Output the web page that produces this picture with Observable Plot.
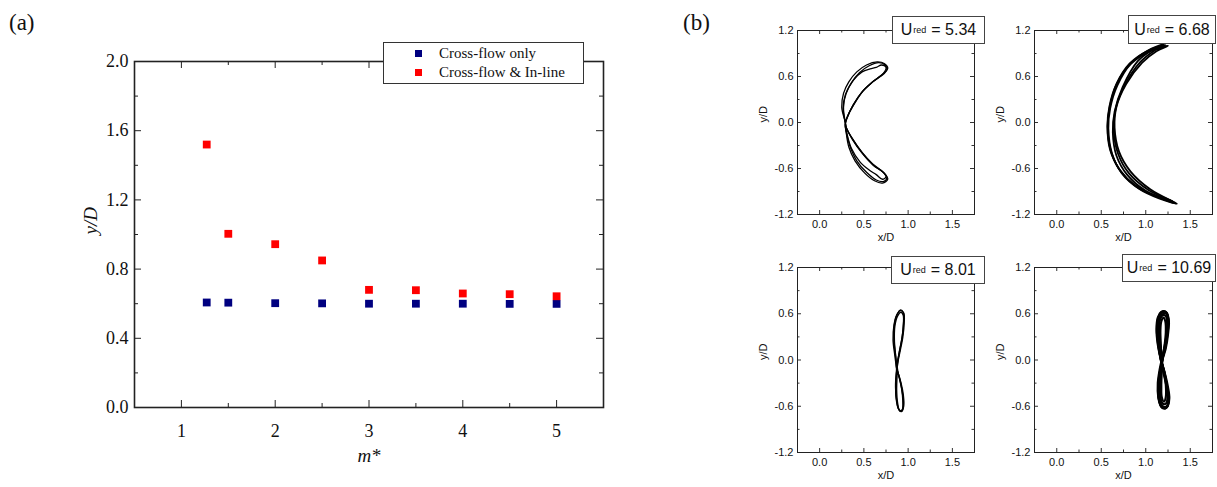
<!DOCTYPE html>
<html>
<head>
<meta charset="utf-8">
<script src="https://cdn.jsdelivr.net/npm/d3@7"></script>
<script src="https://cdn.jsdelivr.net/npm/@observablehq/plot@0.6"></script>
<style>
  body { margin: 0; background: #fff; }
  #page { position: relative; width: 1217px; height: 487px; overflow: hidden; background: #fff; }
  .slot { position: absolute; }
  .tag { position: absolute; font-family: "Liberation Serif", "Times New Roman", serif; font-size: 23px; color: #111; line-height: 1; }
  .legend { position: absolute; left: 383px; top: 42px; width: 199px; height: 40px; border: 1px solid #333; background: #fff;
            font-family: "Liberation Serif", "Times New Roman", serif; font-size: 15px; color: #111; }
  .legend .row { position: absolute; left: 0; height: 18px; display: flex; align-items: center; white-space: nowrap; }
  .legend .sw { display: inline-block; width: 7px; height: 7px; margin-left: 31px; margin-right: 17px; }
  .ubox { position: absolute; border: 1px solid #444; background: #fff; box-sizing: border-box;
          font-family: "Liberation Sans", Arial, sans-serif; font-size: 16px; color: #111;
          display: flex; align-items: center; justify-content: center; white-space: nowrap; }
  .ubox sub { font-size: 9px; vertical-align: -5px; line-height: 0; margin: 0 5px 0 1px; }
</style>
</head>
<body>
<div id="page">
  <div class="tag" style="left:9px;top:11px">(a)</div>
  <div class="tag" style="left:683px;top:11px">(b)</div>
  <div class="slot" id="panelA" style="left:0;top:0"></div>
  <div class="slot" id="orbitTL" style="left:740px;top:0"></div>
  <div class="slot" id="orbitTR" style="left:980px;top:0"></div>
  <div class="slot" id="orbitBL" style="left:740px;top:245px"></div>
  <div class="slot" id="orbitBR" style="left:980px;top:245px"></div>
  <div class="legend" id="legendA"></div>
</div>
<script>
// ---- Panel (a): peak cross-flow amplitude against mass ratio ----
const massRatio = [1.27, 1.5, 2, 2.5, 3, 3.5, 4, 4.5, 5];
const crossFlowOnly = [0.607, 0.606, 0.603, 0.602, 0.600, 0.600, 0.600, 0.599, 0.599];
const crossFlowInLine = [1.52, 1.004, 0.944, 0.850, 0.680, 0.678, 0.659, 0.655, 0.643];
const seriesNames = ["Cross-flow only", "Cross-flow & In-line"];
const seriesColors = ["#000080", "#ff0000"];
const massTicks = [1, 2, 3, 4, 5];
const massMinorTicks = [1.5, 2.5, 3.5, 4.5];
const amplitudeTicks = [0, 0.4, 0.8, 1.2, 1.6, 2.0];
const amplitudeMinorTicks = [0.2, 0.6, 1.0, 1.4, 1.8];

// ---- Panel (b): x/D – y/D orbits at four reduced velocities ----
const reducedVelocity = ["5.34", "6.68", "8.01", "10.69"];
const orbitXTicks = [0, 0.5, 1.0, 1.5];
const orbitXMinorTicks = [0.25, 0.75, 1.25];
const orbitYTicks = [-1.2, -0.6, 0, 0.6, 1.2];
const orbitYMinorTicks = [-0.9, -0.3, 0.3, 0.9];

// Ured = 5.34: crescent-shaped figure-eight, several cycles
const orbit534 = [
  [[0.29,0.0],[0.265,0.18],[0.29,0.36],[0.36,0.52],[0.45,0.65],[0.56,0.74],[0.67,0.78],[0.74,0.75],[0.76,0.69],[0.71,0.63],[0.60,0.53],[0.48,0.40],[0.38,0.23],[0.31,0.06],
   [0.29,-0.02],[0.30,-0.12],[0.34,-0.30],[0.42,-0.50],[0.53,-0.65],[0.64,-0.75],[0.72,-0.77],[0.76,-0.72],[0.72,-0.65],[0.60,-0.55],[0.48,-0.40],[0.37,-0.22],[0.30,-0.06]],
  [[0.29,0.0],[0.25,0.20],[0.27,0.38],[0.33,0.53],[0.42,0.66],[0.53,0.75],[0.65,0.79],[0.73,0.77],[0.77,0.71],[0.73,0.64],[0.61,0.54],[0.49,0.41],[0.39,0.24],[0.31,0.07],
   [0.29,-0.02],[0.30,-0.13],[0.33,-0.32],[0.40,-0.50],[0.51,-0.66],[0.62,-0.76],[0.71,-0.79],[0.77,-0.74],[0.73,-0.66],[0.61,-0.56],[0.49,-0.41],[0.38,-0.23],[0.30,-0.07]],
  [[0.29,0.0],[0.27,0.20],[0.30,0.38],[0.38,0.55],[0.48,0.66],[0.57,0.70],[0.64,0.72],[0.70,0.75],[0.75,0.72],[0.72,0.64],[0.60,0.53],[0.48,0.40],[0.38,0.23],[0.31,0.06],
   [0.29,-0.02],[0.31,-0.15],[0.36,-0.34],[0.46,-0.52],[0.56,-0.62],[0.64,-0.68],[0.71,-0.74],[0.75,-0.71],[0.71,-0.64],[0.60,-0.54],[0.48,-0.39],[0.37,-0.21],[0.30,-0.06]]
];

// Ured = 6.68: wide crescent
const orbit668 = [
  [[1.33,-1.05],[1.13,-0.97],[0.90,-0.84],[0.72,-0.64],[0.61,-0.38],[0.57,-0.06],[0.59,0.20],[0.67,0.50],[0.82,0.77],[1.03,0.94],[1.22,1.01],
   [1.10,0.94],[0.94,0.79],[0.76,0.48],[0.66,0.17],[0.64,-0.10],[0.69,-0.41],[0.81,-0.66],[1.03,-0.88],[1.30,-1.03]],
  [[1.35,-1.06],[1.15,-0.99],[0.92,-0.86],[0.73,-0.66],[0.62,-0.40],[0.58,-0.08],[0.60,0.18],[0.68,0.48],[0.83,0.76],[1.05,0.93],[1.25,1.00],
   [1.12,0.93],[0.96,0.78],[0.78,0.50],[0.67,0.20],[0.65,-0.07],[0.70,-0.38],[0.83,-0.64],[1.05,-0.87],[1.32,-1.04]],
  [[1.30,-1.03],[1.10,-0.95],[0.88,-0.82],[0.71,-0.62],[0.60,-0.36],[0.57,-0.04],[0.60,0.23],[0.68,0.52],[0.84,0.78],[1.06,0.96],[1.20,1.02],
   [1.08,0.95],[0.91,0.80],[0.74,0.46],[0.65,0.14],[0.63,-0.13],[0.67,-0.43],[0.79,-0.68],[1.00,-0.89],[1.28,-1.02]]
];

// Ured = 8.01: slender figure-eight
const orbit801 = [
  [[0.87,-0.10],[0.85,0.06],[0.83,0.26],[0.84,0.45],[0.87,0.58],[0.91,0.64],[0.95,0.61],[0.955,0.48],[0.94,0.30],[0.91,0.12],[0.885,-0.02],
   [0.87,-0.16],[0.86,-0.32],[0.865,-0.50],[0.89,-0.63],[0.925,-0.67],[0.95,-0.60],[0.945,-0.45],[0.92,-0.30],[0.89,-0.18]],
  [[0.875,-0.08],[0.855,0.08],[0.84,0.28],[0.845,0.46],[0.875,0.59],[0.915,0.65],[0.945,0.62],[0.95,0.50],[0.935,0.32],[0.905,0.13],[0.88,-0.03],
   [0.865,-0.18],[0.858,-0.35],[0.87,-0.52],[0.895,-0.64],[0.93,-0.66],[0.945,-0.58],[0.935,-0.42],[0.91,-0.28],[0.885,-0.16]],
  [[0.87,-0.12],[0.86,0.04],[0.845,0.24],[0.85,0.44],[0.88,0.57],[0.92,0.62],[0.945,0.58],[0.945,0.44],[0.93,0.27],[0.90,0.10],[0.88,-0.04],
   [0.875,-0.20],[0.87,-0.38],[0.88,-0.55],[0.905,-0.66],[0.935,-0.64],[0.94,-0.52],[0.925,-0.36],[0.90,-0.22],[0.88,-0.15]]
];

// Ured = 10.69: narrow, densely overlapping figure-eight
const orbit1069 = [
  [[1.17,0.0],[1.145,0.18],[1.13,0.38],[1.14,0.53],[1.18,0.61],[1.23,0.62],[1.255,0.52],[1.245,0.34],[1.22,0.16],[1.19,0.02],
   [1.16,-0.14],[1.14,-0.32],[1.145,-0.50],[1.18,-0.61],[1.23,-0.62],[1.26,-0.52],[1.24,-0.34],[1.21,-0.16]],
  [[1.165,0.02],[1.135,0.20],[1.12,0.40],[1.135,0.55],[1.17,0.62],[1.22,0.63],[1.25,0.55],[1.24,0.36],[1.215,0.17],[1.185,0.03],
   [1.155,-0.13],[1.135,-0.30],[1.14,-0.48],[1.17,-0.60],[1.22,-0.63],[1.255,-0.55],[1.235,-0.36],[1.20,-0.17]],
  [[1.175,-0.02],[1.15,0.16],[1.14,0.36],[1.15,0.51],[1.185,0.59],[1.23,0.60],[1.25,0.49],[1.235,0.31],[1.21,0.14],[1.185,0.0],
   [1.165,-0.16],[1.15,-0.34],[1.155,-0.51],[1.19,-0.60],[1.235,-0.60],[1.255,-0.49],[1.235,-0.32],[1.205,-0.14]],
  [[1.17,0.01],[1.14,0.19],[1.125,0.39],[1.14,0.55],[1.19,0.63],[1.235,0.61],[1.26,0.51],[1.25,0.33],[1.225,0.15],[1.19,0.01],
   [1.16,-0.15],[1.145,-0.33],[1.15,-0.52],[1.185,-0.62],[1.24,-0.61],[1.265,-0.50],[1.245,-0.32],[1.21,-0.15]],
  [[1.175,0.0],[1.16,0.18],[1.15,0.38],[1.16,0.52],[1.19,0.58],[1.225,0.57],[1.24,0.47],[1.23,0.30],[1.205,0.14],[1.185,0.0],
   [1.17,-0.15],[1.16,-0.33],[1.165,-0.49],[1.195,-0.57],[1.23,-0.56],[1.245,-0.46],[1.23,-0.30],[1.20,-0.14]],
  [[1.18,0.0],[1.17,0.20],[1.165,0.38],[1.175,0.50],[1.20,0.55],[1.22,0.50],[1.225,0.36],[1.21,0.18],[1.19,0.02],
   [1.18,-0.16],[1.175,-0.34],[1.18,-0.48],[1.205,-0.54],[1.225,-0.48],[1.225,-0.32],[1.205,-0.15]]
];

// Inward tick marks on all four sides of a frame of size fw × fh
function inwardTicks(xs, ys, len, fw, fh, stroke) {
  return [
    Plot.tickX(xs, {x: d => d, insetTop: fh - len, stroke}),
    Plot.tickX(xs, {x: d => d, insetBottom: fh - len, stroke}),
    Plot.tickY(ys, {y: d => d, insetRight: fw - len, stroke}),
    Plot.tickY(ys, {y: d => d, insetLeft: fw - len, stroke})
  ];
}

// ---- Panel (a) ----
{
  const width = 620, height = 487, ml = 134, mr = 17, mt = 61, mb = 80;
  const fw = width - ml - mr, fh = height - mt - mb;
  const rows = [
    ...massRatio.map((m, i) => ({m, amp: crossFlowOnly[i], series: seriesNames[0]})),
    ...massRatio.map((m, i) => ({m, amp: crossFlowInLine[i], series: seriesNames[1]}))
  ];
  const chart = Plot.plot({
    width, height, marginLeft: ml, marginRight: mr, marginTop: mt, marginBottom: mb,
    style: {fontFamily: '"Liberation Serif", "Times New Roman", serif', fontSize: "18px", color: "#111", background: "transparent", overflow: "visible"},
    x: {domain: [0.5, 5.5], ticks: massTicks, tickSize: 0, tickPadding: 17, tickFormat: d => String(d), label: null},
    y: {domain: [0, 2], ticks: amplitudeTicks, tickSize: 0, tickPadding: 6, tickFormat: d => d.toFixed(1), label: null},
    color: {domain: seriesNames, range: seriesColors},
    marks: [
      ...inwardTicks(massTicks, amplitudeTicks, 7, fw, fh, "#222"),
      ...inwardTicks(massMinorTicks, amplitudeMinorTicks, 4, fw, fh, "#222"),
      Plot.dot(rows, {x: "m", y: "amp", fill: "series", symbol: "square", r: 4.4}),
      Plot.frame({stroke: "#222", strokeWidth: 1.6}),
      Plot.text(["m*"], {frameAnchor: "bottom", dy: 54, text: d => d, fontStyle: "italic", fontSize: 19}),
      Plot.text(["y/D"], {frameAnchor: "left", dx: -44, rotate: -90, text: d => d, fontStyle: "italic", fontSize: 19})
    ]
  });
  document.getElementById("panelA").appendChild(chart);

  const legend = document.getElementById("legendA");
  seriesNames.forEach((name, i) => {
    const row = document.createElement("div");
    row.className = "row";
    row.style.top = (1 + i * 19) + "px";
    const sw = document.createElement("span");
    sw.className = "sw";
    sw.style.background = seriesColors[i];
    const label = document.createElement("span");
    label.textContent = name;
    row.append(sw, label);
    legend.appendChild(row);
  });
}

// ---- Panel (b) ----
function orbitPlot(loops, {width, height, ml, mr, mt, mb, strokeWidth}) {
  const fw = width - ml - mr, fh = height - mt - mb;
  const rows = loops.flatMap((loop, cycle) => loop.map(([x, y]) => ({x, y, cycle})));
  return Plot.plot({
    width, height, marginLeft: ml, marginRight: mr, marginTop: mt, marginBottom: mb,
    style: {fontFamily: '"Liberation Sans", Arial, sans-serif', fontSize: "11px", color: "#111", background: "transparent", overflow: "visible"},
    x: {domain: [-0.25, 1.75], ticks: orbitXTicks, tickSize: 0, tickPadding: 6, tickFormat: d => d.toFixed(1), label: null},
    y: {domain: [-1.2, 1.2], ticks: orbitYTicks, tickSize: 0, tickPadding: 4, tickFormat: d => d.toFixed(1), label: null},
    marks: [
      Plot.line(rows, {x: "x", y: "y", z: "cycle", curve: "catmull-rom-closed", stroke: "#000", strokeWidth, strokeLinejoin: "round"}),
      ...inwardTicks(orbitXTicks, orbitYTicks, 4, fw, fh, "#333"),
      ...inwardTicks(orbitXMinorTicks, orbitYMinorTicks, 2.5, fw, fh, "#333"),
      Plot.frame({stroke: "#222", strokeWidth: 1}),
      Plot.text(["x/D"], {frameAnchor: "bottom", dy: 26, text: d => d}),
      Plot.text(["y/D"], {frameAnchor: "left", dx: -34, rotate: -90, text: d => d})
    ]
  });
}

const topGeom = {width: 240, height: 245, mt: 30, mb: 31};
const botGeom = {width: 240, height: 242, mt: 22, mb: 35};
const leftCol = {ml: 57, mr: 6};
const rightCol = {ml: 54, mr: 5};

document.getElementById("orbitTL").appendChild(orbitPlot(orbit534, {...topGeom, ...leftCol, strokeWidth: 1.3}));
document.getElementById("orbitTR").appendChild(orbitPlot(orbit668, {...topGeom, ...rightCol, width: 237, strokeWidth: 1.8}));
document.getElementById("orbitBL").appendChild(orbitPlot(orbit801, {...botGeom, ...leftCol, strokeWidth: 1.4}));
document.getElementById("orbitBR").appendChild(orbitPlot(orbit1069, {...botGeom, ...rightCol, width: 237, strokeWidth: 2.1}));

// Reduced-velocity labels, one box per orbit
const boxSpots = [
  {left: 892, top: 16, width: 93, height: 28},
  {left: 1128, top: 15, width: 88, height: 29},
  {left: 891, top: 256, width: 94, height: 28},
  {left: 1122, top: 254, width: 94, height: 28}
];
const page = document.getElementById("page");
reducedVelocity.forEach((u, i) => {
  const box = document.createElement("div");
  box.className = "ubox";
  const s = boxSpots[i];
  Object.assign(box.style, {left: s.left + "px", top: s.top + "px", width: s.width + "px", height: s.height + "px"});
  box.innerHTML = "U<sub>red</sub>= " + u;
  page.appendChild(box);
});
</script>
</body>
</html>
